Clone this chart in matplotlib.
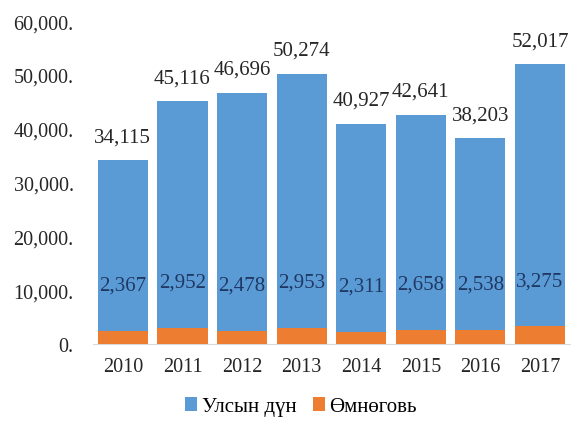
import numpy as np
import matplotlib.pyplot as plt

plt.rcParams['font.family'] = ['Liberation Serif', 'DejaVu Serif']

years = ['2010', '2011', '2012', '2013', '2014', '2015', '2016', '2017']
ulsyn = [34115, 45116, 46696, 50274, 40927, 42641, 38203, 52017]
omnogovi = [2367, 2952, 2478, 2953, 2311, 2658, 2538, 3275]
yticks = [0, 10000, 20000, 30000, 40000, 50000, 60000]

fig = plt.figure(figsize=(5.71, 4.27), dpi=100)
ax = fig.add_axes([0.163, 0.192, 0.835, 0.756])

x = np.arange(len(years))
blue = '#5B9BD5'
orange = '#ED7D31'
b1 = ax.bar(x, ulsyn, width=0.84, color=blue, label='Улсын дүн', zorder=2)
b2 = ax.bar(x, omnogovi, width=0.84, color=orange, label='Өмнөговь', zorder=3)

# labels above the blue bars
for xi, v in zip(x, ulsyn):
    ax.annotate(f'{v:,}', (xi, v), xytext=(0, 10), textcoords='offset points',
                ha='center', va='bottom', fontsize=15, color='#262626')
# Өмнөговь labels sit inside the blue bar, above the orange one
for xi, v in zip(x, omnogovi):
    ax.annotate(f'{v:,}', (xi, v), xytext=(0, 33), textcoords='offset points',
                ha='center', va='center', fontsize=15, color='#1F3864', zorder=4)

ax.set_xlim(-0.5, len(years) - 0.5)
ax.set_ylim(0, 60000)
ax.set_yticks(yticks)
ax.set_yticklabels([f'{t:,}.' for t in yticks], fontsize=14.5, color='#262626')
ax.set_xticks(x)
ax.set_xticklabels(years, fontsize=14.5, color='#262626')
ax.tick_params(length=0, pad=9)
ax.tick_params(axis='y', pad=14)
for s in ['top', 'right', 'left']:
    ax.spines[s].set_visible(False)
ax.spines['bottom'].set_color('#D9D9D9')

fig.legend(handles=[b1, b2], loc='center', bbox_to_anchor=(0.527, 0.045), ncol=2,
           frameon=False, fontsize=15, handlelength=0.6, handleheight=0.6,
           handletextpad=0.2, columnspacing=0.8)

fig.savefig('out.png', dpi=100)
